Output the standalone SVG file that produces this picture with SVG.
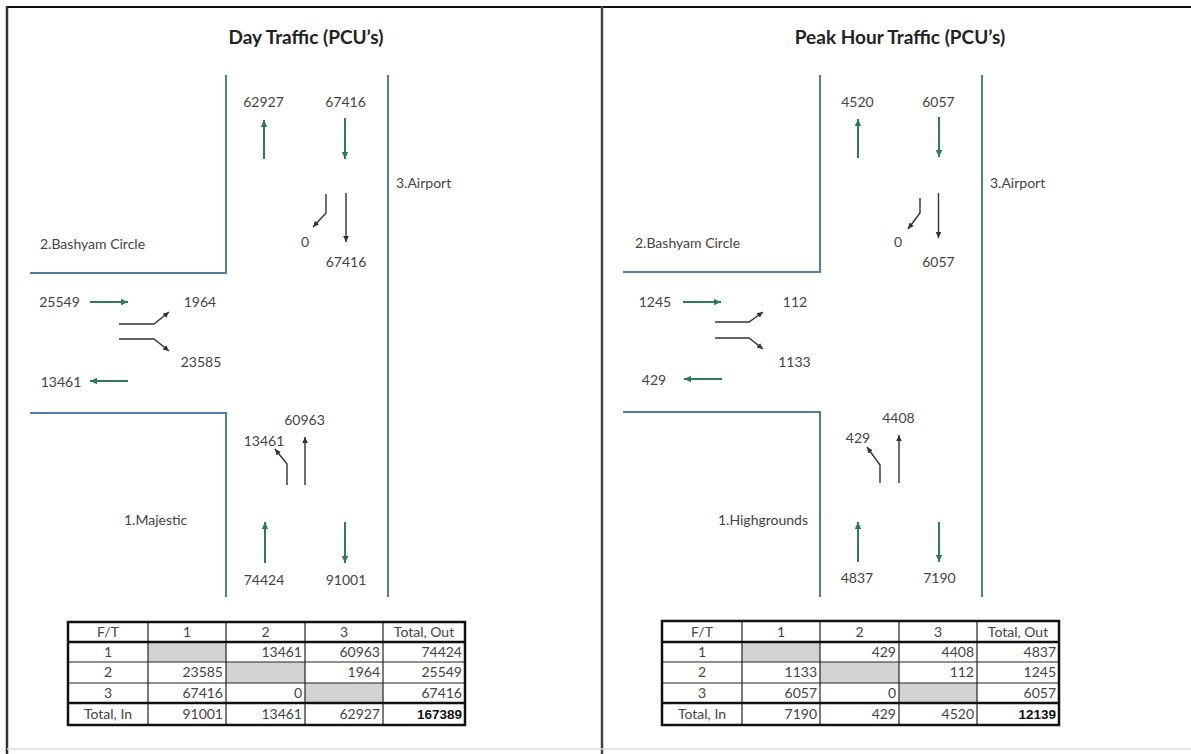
<svg xmlns="http://www.w3.org/2000/svg" width="1191" height="754" viewBox="0 0 1191 754">
<style>
.road{fill:none;stroke:#4f7f9c;stroke-width:2}
.ga{fill:none;stroke:#2f7a5c;stroke-width:2;marker-end:url(#mg)}
.ka{fill:none;stroke:#333;stroke-width:1.4;marker-end:url(#mk)}
text{font-family:Lato,"Liberation Sans",sans-serif;font-size:14px;fill:#444}
.c{text-anchor:middle}
.r{text-anchor:end}
.title{font-weight:bold;font-size:19px;fill:#222}
.tb text{font-size:14px}
.tb .tot{font-family:"Liberation Sans",Arial,sans-serif;font-weight:bold;font-size:13.5px;fill:#111}
.gray{fill:#d3d3d3}
.thin{stroke:#222;stroke-width:1.2}
.thick{stroke:#111;stroke-width:2.5;fill:none}
</style>
<defs>
<marker id="mg" markerUnits="userSpaceOnUse" markerWidth="8" markerHeight="8" refX="7" refY="3.5" orient="auto"><path d="M0,0.3 L7,3.5 L0,6.7 z" fill="#2f7a5c"/></marker>
<marker id="mk" markerUnits="userSpaceOnUse" markerWidth="7" markerHeight="7" refX="6" refY="3" orient="auto"><path d="M0,0.2 L6,3 L0,5.8 z" fill="#333"/></marker>
</defs>
<rect width="1191" height="754" fill="#fff"/>
<g id="frame">
<line x1="7" y1="7" x2="1191" y2="7" stroke="#111" stroke-width="2"/>
<line x1="7" y1="6" x2="7" y2="754" stroke="#333" stroke-width="2.5"/>
<line x1="602" y1="6" x2="602" y2="754" stroke="#444" stroke-width="2.5"/>
<line x1="7" y1="749" x2="1191" y2="749" stroke="#ddd" stroke-width="1.5"/>
</g>

<g id="day-panel">
<text id="day-title" class="title c" x="306" y="44">Day Traffic (PCU’s)</text>
<g id="day-roads">
<path class="road" d="M226,75 V273 H30"/>
<path class="road" d="M30,413 H226 V597"/>
<path class="road" d="M388,75 V597"/>
</g>
<g id="day-connectors">
<path class="ga" d="M264,159 V120"/>
<path class="ga" d="M345,118 V159"/>
<path class="ga" d="M90,302 H128"/>
<path class="ga" d="M128,381 H90"/>
<path class="ga" d="M265,563 V522"/>
<path class="ga" d="M345,522 V563"/>
<path class="ka" d="M326,194 V213 L313,227"/>
<path class="ka" d="M346,193 V242"/>
<path class="ka" d="M119,324 H154 L169,312"/>
<path class="ka" d="M119,339 H154 L169,351"/>
<path class="ka" d="M287,485 V464 L275,449"/>
<path class="ka" d="M305,485 V437"/>
</g>
<g id="day-node-airport">
<text class="c" x="263.5" y="107">62927</text>
<text class="c" x="345.5" y="107">67416</text>
<text x="396" y="188">3.Airport</text>
<text class="c" x="305" y="247">0</text>
<text class="c" x="346" y="267">67416</text>
</g>
<g id="day-node-bashyam">
<text x="40" y="249">2.Bashyam Circle</text>
<text class="c" x="59.5" y="307">25549</text>
<text class="c" x="200" y="307">1964</text>
<text class="c" x="201" y="367">23585</text>
<text class="c" x="61" y="387">13461</text>
</g>
<g id="day-node-majestic">
<text class="c" x="304.5" y="425">60963</text>
<text class="c" x="264" y="446">13461</text>
<text x="124" y="525">1.Majestic</text>
<text class="c" x="264" y="585">74424</text>
<text class="c" x="346" y="585">91001</text>
</g>
<g id="day-table" class="tb">
<rect class="gray" x="148" y="642" width="78" height="20"/>
<rect class="gray" x="226" y="662" width="79" height="21"/>
<rect class="gray" x="305" y="683" width="78" height="20"/>
<g class="thin">
<line x1="68" y1="662" x2="465" y2="662"/>
<line x1="68" y1="683" x2="465" y2="683"/>
<line x1="148" y1="622" x2="148" y2="725"/>
<line x1="226" y1="622" x2="226" y2="725"/>
<line x1="305" y1="622" x2="305" y2="725"/>
<line x1="383" y1="622" x2="383" y2="725"/>
</g>
<line class="thick" x1="68" y1="642" x2="465" y2="642" stroke-width="2"/>
<line class="thick" x1="68" y1="703" x2="465" y2="703"/>
<rect class="thick" x="68" y="622" width="397" height="103"/>
<text class="c" x="108" y="637">F/T</text>
<text class="c" x="187" y="637">1</text>
<text class="c" x="265.5" y="637">2</text>
<text class="c" x="344" y="637">3</text>
<text class="c" x="424" y="637">Total, Out</text>
<text class="c" x="108" y="657">1</text>
<text class="r" x="302" y="657">13461</text>
<text class="r" x="380" y="657">60963</text>
<text class="r" x="462" y="657">74424</text>
<text class="c" x="108" y="677">2</text>
<text class="r" x="223" y="677">23585</text>
<text class="r" x="380" y="677">1964</text>
<text class="r" x="462" y="677">25549</text>
<text class="c" x="108" y="698">3</text>
<text class="r" x="223" y="698">67416</text>
<text class="r" x="302" y="698">0</text>
<text class="r" x="462" y="698">67416</text>
<text class="c" x="108" y="719">Total, In</text>
<text class="r" x="223" y="719">91001</text>
<text class="r" x="302" y="719">13461</text>
<text class="r" x="380" y="719">62927</text>
<text class="r tot" x="462" y="719">167389</text>
</g>
</g>

<g id="peak-panel" transform="translate(594,0)">
<text id="peak-title" class="title c" x="306" y="44">Peak Hour Traffic (PCU’s)</text>
<g id="peak-roads">
<path class="road" d="M226,75 V272 H29"/>
<path class="road" d="M29,412 H226 V597"/>
<path class="road" d="M388,75 V597"/>
</g>
<g id="peak-connectors">
<path class="ga" d="M264,158 V119"/>
<path class="ga" d="M345,117 V157"/>
<path class="ga" d="M89,302 H127"/>
<path class="ga" d="M128,379 H90"/>
<path class="ga" d="M264,562 V522"/>
<path class="ga" d="M345,522 V562"/>
<path class="ka" d="M326,198 V213 L314,229"/>
<path class="ka" d="M344.5,193 V238"/>
<path class="ka" d="M121,322 H155 L169,312"/>
<path class="ka" d="M121,338 H155 L169,349"/>
<path class="ka" d="M286,483 V465 L273,447"/>
<path class="ka" d="M305,483 V435"/>
</g>
<g id="peak-node-airport">
<text class="c" x="263.5" y="107">4520</text>
<text class="c" x="344.5" y="107">6057</text>
<text x="396" y="188">3.Airport</text>
<text class="c" x="304" y="247">0</text>
<text class="c" x="344.5" y="267">6057</text>
</g>
<g id="peak-node-bashyam">
<text x="41" y="248">2.Bashyam Circle</text>
<text class="c" x="61" y="307">1245</text>
<text class="c" x="201" y="307">112</text>
<text class="c" x="200.5" y="367">1133</text>
<text class="c" x="60" y="385">429</text>
</g>
<g id="peak-node-highgrounds">
<text class="c" x="304.5" y="423">4408</text>
<text class="c" x="264" y="443">429</text>
<text x="124" y="525">1.Highgrounds</text>
<text class="c" x="263" y="583">4837</text>
<text class="c" x="345.5" y="583">7190</text>
</g>
<g id="peak-table" class="tb">
<rect class="gray" x="148" y="642" width="78" height="20"/>
<rect class="gray" x="226" y="662" width="79" height="21"/>
<rect class="gray" x="305" y="683" width="78" height="20"/>
<g class="thin">
<line x1="68" y1="662" x2="465" y2="662"/>
<line x1="68" y1="683" x2="465" y2="683"/>
<line x1="148" y1="621" x2="148" y2="725"/>
<line x1="226" y1="621" x2="226" y2="725"/>
<line x1="305" y1="621" x2="305" y2="725"/>
<line x1="383" y1="621" x2="383" y2="725"/>
</g>
<line class="thick" x1="68" y1="642" x2="465" y2="642" stroke-width="2"/>
<line class="thick" x1="68" y1="703" x2="465" y2="703"/>
<rect class="thick" x="68" y="621" width="397" height="104"/>
<text class="c" x="108" y="637">F/T</text>
<text class="c" x="187" y="637">1</text>
<text class="c" x="265.5" y="637">2</text>
<text class="c" x="344" y="637">3</text>
<text class="c" x="424" y="637">Total, Out</text>
<text class="c" x="108" y="657">1</text>
<text class="r" x="302" y="657">429</text>
<text class="r" x="380" y="657">4408</text>
<text class="r" x="462" y="657">4837</text>
<text class="c" x="108" y="677">2</text>
<text class="r" x="223" y="677">1133</text>
<text class="r" x="380" y="677">112</text>
<text class="r" x="462" y="677">1245</text>
<text class="c" x="108" y="698">3</text>
<text class="r" x="223" y="698">6057</text>
<text class="r" x="302" y="698">0</text>
<text class="r" x="462" y="698">6057</text>
<text class="c" x="108" y="719">Total, In</text>
<text class="r" x="223" y="719">7190</text>
<text class="r" x="302" y="719">429</text>
<text class="r" x="380" y="719">4520</text>
<text class="r tot" x="462" y="719">12139</text>
</g>
</g>
</svg>
